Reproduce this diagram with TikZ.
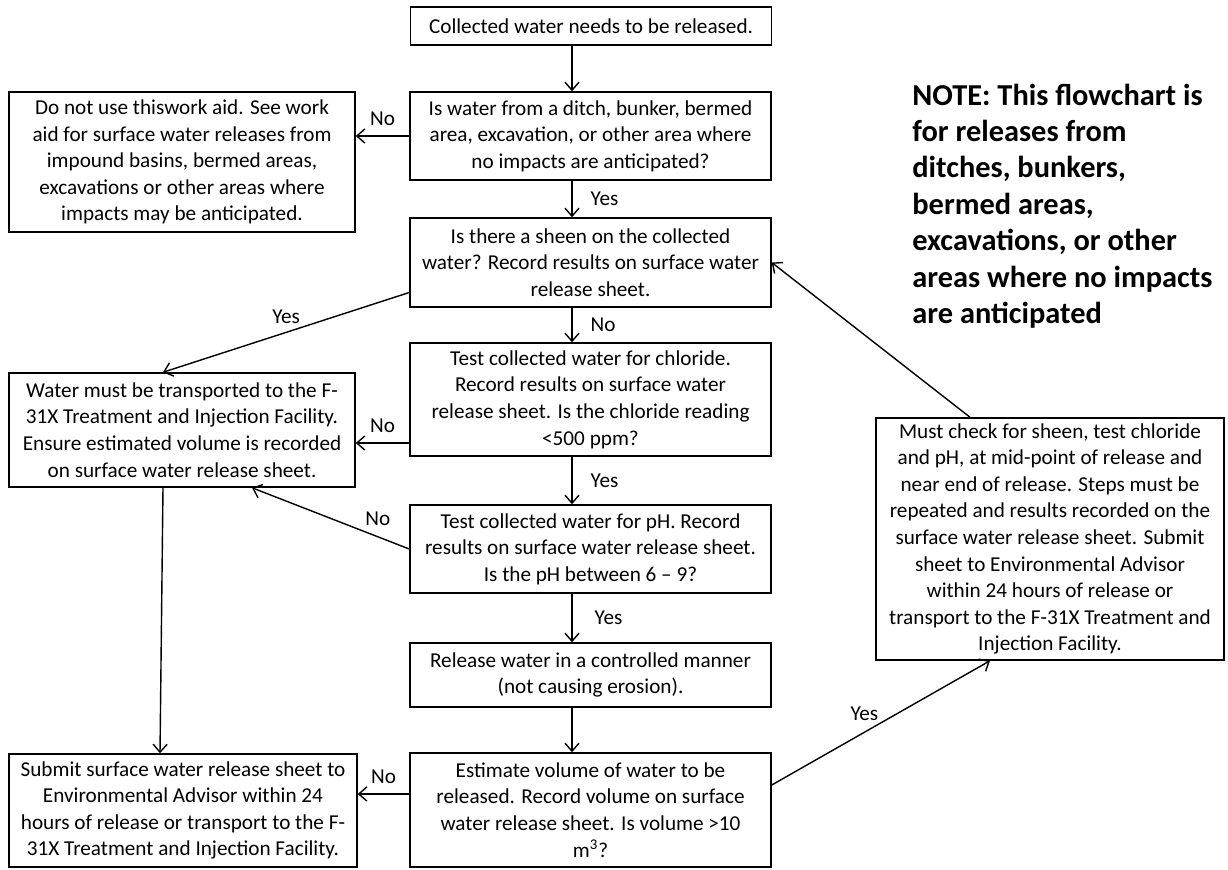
\documentclass[tikz,border=0pt]{standalone}
\usepackage{fontspec}
\setmainfont{Carlito}
\usetikzlibrary{arrows.meta}
\tikzset{
	box/.style={draw, line width=0.75pt, align=center, minimum width=180.5pt, inner sep=1.5pt, font=\fontsize{10.6}{13.3}\selectfont},
	lbl/.style={font=\fontsize{10.6}{13.3}\selectfont, inner sep=1pt},
	note/.style={font=\bfseries\fontsize{15.2}{18.2}\selectfont, align=left, inner sep=0pt},
	link/.style={-{Straight Barb[length=4pt,width=7pt]}, line width=0.7pt}
}
\begin{document}
\begin{tikzpicture}[x=0.5pt, y=-0.5pt]
		\useasboundingbox (0,0) rectangle (1228,869);
		\coordinate (spine) at (572,0);
		
		% Main column
		\node[box, minimum height=19pt] (start) at (591,26) {Collected water needs to be released.};
		\node[box, minimum height=44pt] (ditch) at (590.5,136) {Is water from a ditch, bunker, bermed\\ area, excavation, or other area where\\ no impacts are anticipated?};
		\node[box, minimum height=44.5pt] (sheen) at (590.5,262.5) {Is there a sheen on the collected\\ water? Record results on surface water\\ release sheet.};
		\node[box, minimum height=56.5pt] (chloride) at (590.5,399.5) {Test collected water for chloride.\\ Record results on surface water\\ release sheet. Is the chloride reading\\ <500 ppm?};
		\node[box, minimum height=44pt] (ph) at (590.5,549) {Test collected water for pH. Record\\ results on surface water release sheet.\\ Is the pH between 6 – 9?};
		\node[box, minimum height=32pt] (release) at (590.5,675) {Release water in a controlled manner\\ (not causing erosion).};
		\node[box, minimum height=57pt] (estimate) at (590.5,810) {Estimate volume of water to be\\ released. Record volume on surface\\ water release sheet. Is volume >10\\ m\textsuperscript{3}?};
		
		% Left column
		\node[box, minimum width=173pt, minimum height=70pt] (dontuse) at (182,162) {Do not use thiswork aid. See work\\ aid for surface water releases from\\ impound basins, bermed areas,\\ excavations or other areas where\\ impacts may be anticipated.};
		\node[box, minimum width=173pt, minimum height=57pt] (transport) at (182,430) {Water must be transported to the F-\\ 31X Treatment and Injection Facility.\\ Ensure estimated volume is recorded\\ on surface water release sheet.};
		\node[box, minimum width=174pt, minimum height=56.5pt] (submit) at (183,810.5) {Submit surface water release sheet to\\ Environmental Advisor within 24\\ hours of release or transport to the F-\\ 31X Treatment and Injection Facility.};
		
		% Right side
		\node[box, minimum width=174pt, minimum height=121pt] (recheck) at (1050,539) {Must check for sheen, test chloride\\ and pH, at mid-point of release and\\ near end of release. Steps must be\\ repeated and results recorded on the\\ surface water release sheet. Submit\\ sheet to Environmental Advisor\\ within 24 hours of release or\\ transport to the F-31X Treatment and\\ Injection Facility.};
		\node[note, anchor=west] (note) at (912,206) {NOTE: This flowchart is\\ for releases from\\ ditches, bunkers,\\ bermed areas,\\ excavations, or other\\ areas where no impacts\\ are anticipated};
		
		% Connectors
		\draw[link] (start.south -| spine) -- (ditch.north -| spine);
		\draw[link] (ditch.west) -- (ditch.west -| dontuse.east) node[lbl, midway, above=4pt] {No};
		\draw[link] (ditch.south -| spine) -- (sheen.north -| spine) node[lbl, midway, right=8pt] {Yes};
		\draw[link] ([yshift=-15pt]sheen.west) -- ([xshift=-9.5pt]transport.north) node[lbl, midway, above=3pt] {Yes};
		\draw[link] (sheen.south -| spine) -- (chloride.north -| spine) node[lbl, midway, right=8pt] {No};
		\draw[link] ([yshift=-21.75pt]chloride.west) -- ([yshift=-21.75pt]chloride.west -| transport.east) node[lbl, midway, above=4pt] {No};
		\draw[link] (chloride.south -| spine) -- (ph.north -| spine) node[lbl, midway, right=8pt] {Yes};
		\draw[link] (ph.west) -- ([xshift=35pt]transport.south) node[lbl, pos=0.2, above=4pt] {No};
		\draw[link] (ph.south -| spine) -- (release.north -| spine) node[lbl, midway, right=10pt] {Yes};
		\draw[link] (release.south -| spine) -- (estimate.north -| spine);
		\draw[link] ([yshift=8pt]estimate.west) -- ([yshift=8pt]estimate.west -| submit.east) node[lbl, midway, above=4pt] {No};
		\draw[link] ([yshift=12.5pt]estimate.east) -- ([xshift=-30pt]recheck.south) node[lbl, midway, above left=0pt] {Yes};
		\draw[link] ([xshift=-40pt]recheck.north) -- (sheen.east);
		\draw[link] ([xshift=-9.5pt]transport.south) -- ([xshift=-11.5pt]submit.north);
	\end{tikzpicture}
\end{document}
